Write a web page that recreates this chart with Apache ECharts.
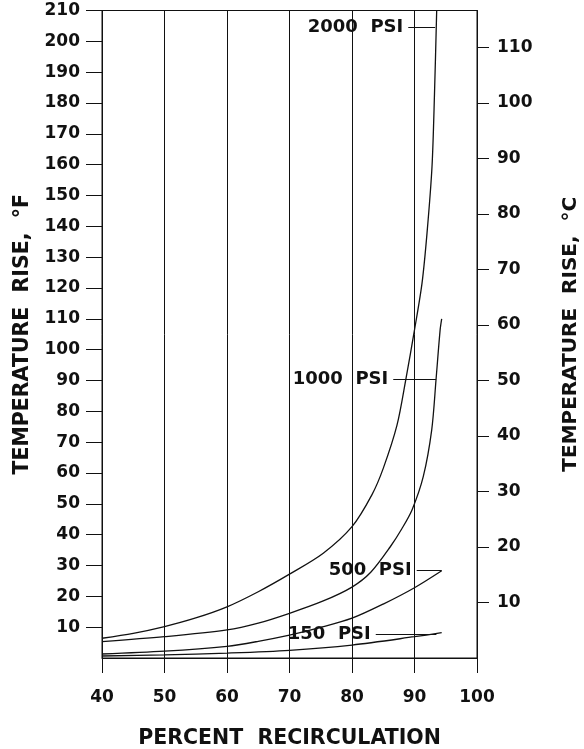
<!DOCTYPE html>
<html>
<head>
<meta charset="utf-8">
<script src="https://cdn.jsdelivr.net/npm/echarts@6/dist/echarts.min.js"></script>
<style>
  html, body { margin: 0; padding: 0; background: #fff; }
  #main { width: 584px; height: 749px; }
</style>
</head>
<body>
<div id="main"></div>
<script>
// percent recirculation / temperature rise (°F)
const xPct2000 = [40, 45, 50, 55, 60, 65, 70, 75.4, 80, 83.2, 85, 87.2, 88.6, 90, 91.2, 92, 92.8, 93.2, 93.55];
const rise2000 = [6.4, 8.0, 10.2, 13, 16.6, 21.5, 27.2, 34, 42.6, 53, 61.5, 75.5, 90.2, 106.4, 121.5, 137.7, 159.3, 183, 210];
const xPct1000 = [40, 50, 60, 65, 70, 75.4, 80, 83, 86.1, 88, 89.6, 91.4, 92.75, 93.45, 94.1, 94.35];
const rise1000 = [5.3, 6.9, 9.1, 11.3, 14.5, 18.5, 23, 27.8, 36, 42, 48, 58.8, 73.9, 90.4, 106.4, 110];
const xPct500 = [40, 50, 60, 65, 70, 75, 80, 85, 90, 94.35];
const rise500 = [1.3, 2.2, 3.8, 5.4, 7.4, 9.9, 12.9, 17.5, 22.8, 28.3];
const xPct150 = [40, 50, 60, 70, 80, 90, 94.35];
const rise150 = [0.65, 1.0, 1.6, 2.5, 4.2, 6.9, 8.2];

// curve labels and their leader lines (data coords)
const psiLabels = ['2000  PSI', '1000  PSI', '500  PSI', '150  PSI'];
const leaderY = [204.5, 90.4, 28.3, 7.8];
const leaderX0 = [89.0, 86.6, 90.35, 83.8];
const leaderX1 = [93.3, 93.45, 94.35, 93.5];

// tick labels
const xTicks = [40, 50, 60, 70, 80, 90, 100];
const yTicksF = [10, 20, 30, 40, 50, 60, 70, 80, 90, 100, 110, 120, 130, 140, 150, 160, 170, 180, 190, 200, 210];
const yTicksC = [10, 20, 30, 40, 50, 60, 70, 80, 90, 100, 110];

const FONT = 'DejaVu Sans';
const INK = '#111';

function pairs(xs, ys) {
  return xs.map((x, i) => [x, ys[i]]);
}

const curves = [
  pairs(xPct2000, rise2000),
  pairs(xPct1000, rise1000),
  pairs(xPct500, rise500),
  pairs(xPct150, rise150)
];

const series = curves.map((d, i) => ({
  type: 'line',
  data: d,
  yAxisIndex: 0,
  smooth: 0.3,
  showSymbol: false,
  symbol: 'none',
  lineStyle: { color: INK, width: 1.3 },
  silent: true,
  markLine: {
    silent: true,
    symbol: ['none', 'none'],
    lineStyle: { color: INK, width: 1, type: 'solid' },
    label: {
      show: true,
      position: 'start',
      distance: 5,
      formatter: psiLabels[i],
      color: INK,
      fontFamily: FONT,
      fontWeight: 'bold',
      fontSize: 18
    },
    data: [[{ coord: [leaderX0[i], leaderY[i]] }, { coord: [leaderX1[i], leaderY[i]] }]]
  }
}));

// empty series so the °C axis gets laid out
series.push({ type: 'line', yAxisIndex: 1, data: [], silent: true });

const tickFont = { fontFamily: FONT, fontWeight: 'bold', fontSize: 17, color: INK };
const nameFont = { fontFamily: FONT, fontWeight: 'bold', fontSize: 20.5, color: INK };

const myChart = echarts.init(document.getElementById('main'));
myChart.setOption({
  animation: false,
  backgroundColor: '#fff',
  grid: {
    left: 102, right: 107, top: 10.5, bottom: 91,
    outerBoundsMode: 'none',
    containLabel: false,
    show: true, borderColor: INK, borderWidth: 1
  },
  xAxis: {
    type: 'value', min: 40, max: 100, interval: 10,
    name: 'PERCENT  RECIRCULATION',
    nameLocation: 'middle', nameGap: 70,
    nameTextStyle: nameFont,
    axisLine: { show: true, lineStyle: { color: INK, width: 1 } },
    axisTick: { show: true, length: 15, lineStyle: { color: INK, width: 1 }, customValues: xTicks },
    axisLabel: Object.assign({ margin: 31, customValues: xTicks }, tickFont),
    splitLine: { show: true, lineStyle: { color: INK, width: 1 } }
  },
  yAxis: [{
    type: 'value', min: 0, max: 210, interval: 10, position: 'left',
    name: 'TEMPERATURE  RISE,  °F',
    nameLocation: 'middle', nameGap: 69, nameRotate: 90,
    nameTextStyle: nameFont,
    axisLine: { show: true, lineStyle: { color: INK, width: 1 } },
    axisTick: { show: true, length: 16, lineStyle: { color: INK, width: 1 }, customValues: yTicksF },
    axisLabel: Object.assign({ margin: 22, customValues: yTicksF }, tickFont),
    splitLine: { show: false }
  }, {
    type: 'value', min: 0, max: 210 / 1.8, interval: 10, position: 'right',
    name: 'TEMPERATURE  RISE,  °C',
    nameLocation: 'middle', nameGap: 84, nameRotate: 90,
    nameTextStyle: Object.assign({}, nameFont, { fontSize: 20 }),
    axisLine: { show: true, lineStyle: { color: INK, width: 1 } },
    axisTick: { show: true, length: 12, lineStyle: { color: INK, width: 1 }, customValues: yTicksC },
    axisLabel: Object.assign({ margin: 20, customValues: yTicksC }, tickFont),
    splitLine: { show: false }
  }],
  series: series
});
</script>
</body>
</html>
